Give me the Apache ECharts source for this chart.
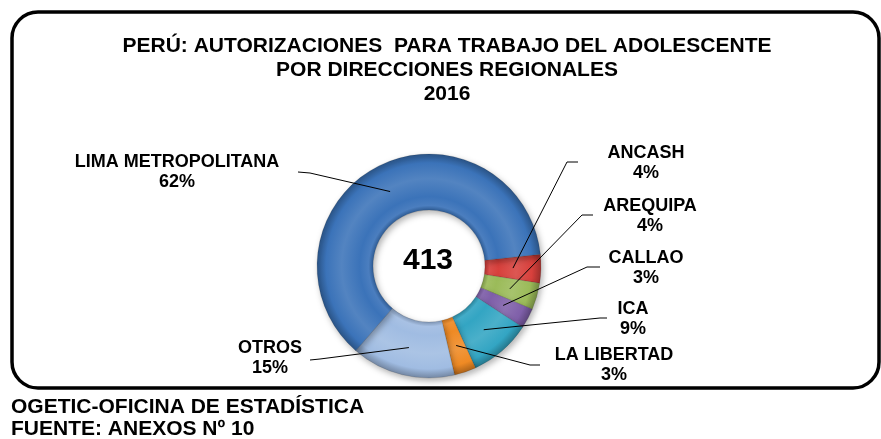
<!DOCTYPE html>
<html>
<head>
<meta charset="utf-8">
<script src="https://cdn.jsdelivr.net/npm/echarts@6/dist/echarts.min.js"></script>
<style>
html, body { margin: 0; padding: 0; background: #fff; }
#chart { width: 881px; height: 439px; }
</style>
</head>
<body>
<div id="chart"></div>
<script>
// datos
var regiones = ['ANCASH', 'AREQUIPA', 'CALLAO', 'ICA', 'LA LIBERTAD', 'OTROS', 'LIMA METROPOLITANA'];
var autorizaciones = [17, 16, 12, 37, 13, 62, 256];
var colores = ['#d8403c', '#9bbb59', '#7f5fa9', '#33a5c3', '#ef8a24', '#a0bce2', '#3b73b9'];

// ubicacion de las etiquetas (centro del texto) y de sus lineas
var posEtiqueta = [[646, 163], [650, 216], [646, 268], [633, 319], [614, 365], [270, 358], [177, 172]];
var codo = [[567, 162], [582, 215], [587, 267], [600, 318], [530, 365], [320, 359], [310, 173]];
var finLinea = [[578, 162], [593, 215], [600, 267], [607, 318], [540, 365], [310, 360], [298, 172]];

var CX = 429, CY = 266, R_IN = 56, R_OUT = 112, R_MID = 84;
var FUENTE = 'Liberation Sans, Arial, sans-serif';

var total = autorizaciones.reduce(function (a, b) { return a + b; }, 0);

function tono(hex, f) {
    var n = parseInt(hex.slice(1), 16);
    var rgb = [n >> 16, (n >> 8) & 255, n & 255].map(function (v) {
        return Math.round(f < 0 ? v * (1 + f) : v + (255 - v) * f);
    });
    return 'rgb(' + rgb.join(',') + ')';
}

// sombreado tipo bisel de excel
function relleno(hex) {
    return {
        type: 'radial', x: CX, y: CY, r: R_OUT, global: true,
        colorStops: [
            { offset: 0, color: hex },
            { offset: 0.5, color: tono(hex, -0.2) },
            { offset: 0.54, color: tono(hex, 0.08) },
            { offset: 0.62, color: hex },
            { offset: 0.78, color: tono(hex, 0.12) },
            { offset: 0.92, color: hex },
            { offset: 1, color: tono(hex, -0.28) }
        ]
    };
}

var myChart = echarts.init(document.getElementById('chart'));

var option = {
    backgroundColor: '#fff',
    animation: false,
    graphic: [
        {
            type: 'rect', z: 0,
            shape: { x: 12, y: 12, width: 867, height: 376, r: 26 },
            style: { fill: 'none', stroke: '#000', lineWidth: 3.5 }
        },
        {
            type: 'text', x: 447, y: 34,
            style: {
                text: 'PERÚ: AUTORIZACIONES  PARA TRABAJO DEL ADOLESCENTE\nPOR DIRECCIONES REGIONALES\n2016',
                textAlign: 'center', textVerticalAlign: 'top',
                font: 'bold 21px ' + FUENTE, lineHeight: 24, fill: '#000'
            }
        },
        {
            type: 'text', x: CX - 1, y: 261, z: 10,
            style: {
                text: String(total), textAlign: 'center', textVerticalAlign: 'middle',
                font: 'bold 30px ' + FUENTE, fill: '#000'
            }
        },
        {
            type: 'text', x: 11, y: 396,
            style: {
                text: 'OGETIC-OFICINA DE ESTADÍSTICA\nFUENTE: ANEXOS Nº 10',
                textAlign: 'left', textVerticalAlign: 'top',
                font: 'bold 21px ' + FUENTE, lineHeight: 22, fill: '#000'
            }
        }
    ],
    series: [
        {
            // anillo con sombreado
            type: 'pie',
            z: 2,
            center: [CX, CY],
            radius: [R_IN, R_OUT],
            startAngle: 6,
            clockwise: true,
            silent: true,
            data: regiones.map(function (n, i) {
                return { name: n, value: autorizaciones[i], itemStyle: { color: relleno(colores[i]) } };
            }),
            itemStyle: {
                borderColor: 'rgba(0,0,0,0.2)',
                borderWidth: 0.6,
                shadowBlur: 6,
                shadowOffsetX: 2,
                shadowOffsetY: 3,
                shadowColor: 'rgba(0,0,0,0.3)'
            },
            label: { show: false },
            labelLine: { show: false }
        },
        {
            // misma serie encima, solo para etiquetas y lineas
            type: 'pie',
            z: 3,
            center: [CX, CY],
            radius: [R_IN, R_OUT],
            startAngle: 6,
            clockwise: true,
            silent: true,
            avoidLabelOverlap: false,
            percentPrecision: 0,
            data: regiones.map(function (n, i) {
                return { name: n, value: autorizaciones[i] };
            }),
            itemStyle: { color: 'rgba(0,0,0,0)', borderWidth: 0 },
            label: {
                show: true,
                position: 'outside',
                formatter: '{b}\n{d}%',
                fontFamily: FUENTE,
                fontWeight: 'bold',
                fontSize: 18,
                lineHeight: 20,
                color: '#000',
                align: 'center'
            },
            labelLine: {
                show: true,
                length: 10,
                length2: 10,
                lineStyle: { color: '#000', width: 1 }
            },
            labelLayout: function (p) {
                var i = p.dataIndex;
                var p0 = p.labelLinePoints[0];
                var k = R_MID / R_OUT;
                var ancla = [CX + (p0[0] - CX) * k, CY + (p0[1] - CY) * k];
                return {
                    x: posEtiqueta[i][0],
                    y: posEtiqueta[i][1],
                    align: 'center',
                    verticalAlign: 'middle',
                    labelLinePoints: [ancla, codo[i], finLinea[i]]
                };
            }
        }
    ]
};
myChart.setOption(option);
</script>
</body>
</html>
